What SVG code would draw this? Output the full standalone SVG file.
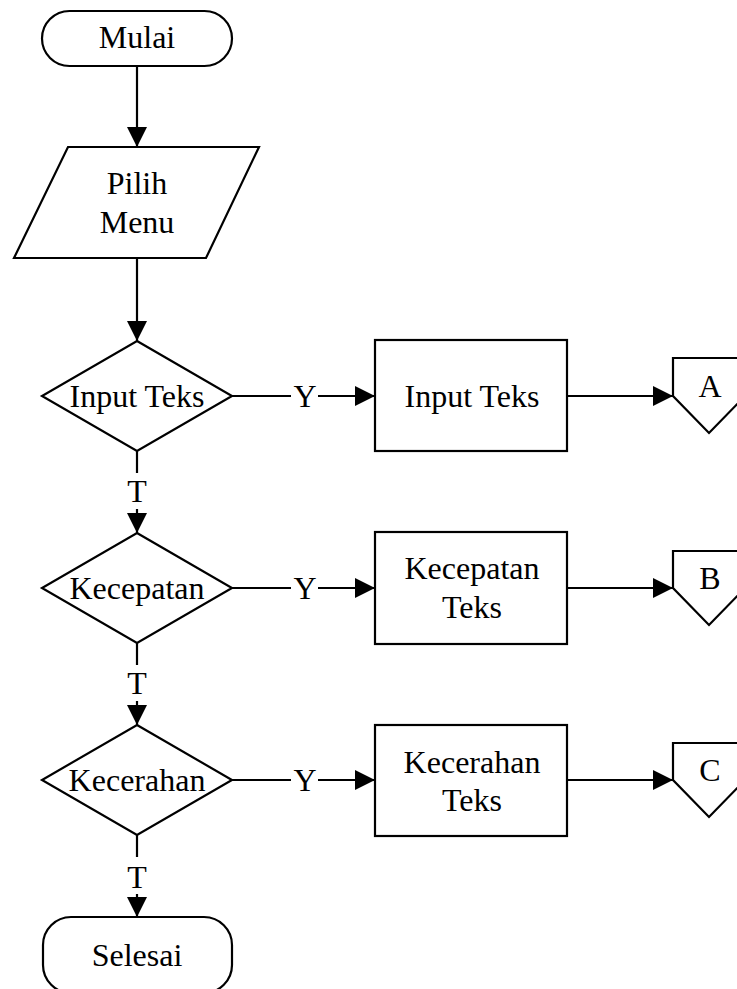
<svg xmlns="http://www.w3.org/2000/svg" width="737" height="989" viewBox="0 0 737 989">
  <style>
    .shape { fill: #ffffff; stroke: #000000; stroke-width: 2.2; }
    .line { fill: none; stroke: #000000; stroke-width: 2.2; }
    .arrow { fill: none; stroke: #000000; stroke-width: 2.2; marker-end: url(#head); }
    text { font-family: "Liberation Serif", "Times New Roman", serif; font-size: 32px; fill: #000000; text-anchor: middle; }
  </style>
  <defs>
    <marker id="head" viewBox="0 0 20 20" refX="20" refY="10" markerWidth="20" markerHeight="20" markerUnits="userSpaceOnUse" orient="auto">
      <path d="M0,0 L20,10 L0,20 Z" fill="#000000"/>
    </marker>
  </defs>
  <rect width="737" height="989" fill="#ffffff"/>

  <!-- connectors -->
  <g id="connectors">
    <!-- main vertical flow -->
    <line class="arrow" x1="137" y1="66" x2="137" y2="147"/>
    <line class="arrow" x1="137" y1="258" x2="137" y2="341"/>
    <line class="line" x1="137" y1="451" x2="137" y2="473"/>
    <text x="137" y="502">T</text>
    <line class="arrow" x1="137" y1="509" x2="137" y2="533"/>
    <line class="line" x1="137" y1="643" x2="137" y2="665"/>
    <text x="137" y="694">T</text>
    <line class="arrow" x1="137" y1="701" x2="137" y2="725"/>
    <line class="line" x1="137" y1="835" x2="137" y2="857"/>
    <text x="137" y="888">T</text>
    <line class="arrow" x1="137" y1="894" x2="137" y2="917"/>

    <!-- Y branches -->
    <line class="line" x1="232" y1="396" x2="291" y2="396"/>
    <text x="305" y="407">Y</text>
    <line class="arrow" x1="318" y1="396" x2="375" y2="396"/>
    <line class="line" x1="232" y1="588" x2="291" y2="588"/>
    <text x="305" y="599">Y</text>
    <line class="arrow" x1="318" y1="588" x2="375" y2="588"/>
    <line class="line" x1="232" y1="780" x2="291" y2="780"/>
    <text x="305" y="791">Y</text>
    <line class="arrow" x1="318" y1="780" x2="375" y2="780"/>

    <!-- process to off-page references -->
    <line class="arrow" x1="567" y1="396" x2="673" y2="396"/>
    <line class="arrow" x1="567" y1="588" x2="673" y2="588"/>
    <line class="arrow" x1="567" y1="780" x2="673" y2="780"/>
  </g>

  <g id="start">
    <rect class="shape" x="42" y="11" width="190" height="55" rx="27.5" ry="27.5"/>
    <text x="137" y="48">Mulai</text>
  </g>

  <g id="choose-menu">
    <polygon class="shape" points="68,147 259,147 206,258 14,258"/>
    <text x="137" y="194">Pilih</text>
    <text x="137" y="233">Menu</text>
  </g>

  <g id="decision-input">
    <polygon class="shape" points="137,341 232,396 137,451 42,396"/>
    <text x="137" y="407">Input Teks</text>
  </g>

  <g id="process-input">
    <rect class="shape" x="375" y="340" width="192" height="111"/>
    <text x="472" y="407">Input Teks</text>
  </g>

  <g id="ref-a">
    <polygon class="shape" points="673,358 745,358 745,396 709,433 673,396"/>
    <text x="710" y="397">A</text>
  </g>

  <g id="decision-speed">
    <polygon class="shape" points="137,533 232,588 137,643 42,588"/>
    <text x="137" y="599">Kecepatan</text>
  </g>

  <g id="process-speed">
    <rect class="shape" x="375" y="532" width="192" height="112"/>
    <text x="472" y="579">Kecepatan</text>
    <text x="472" y="618">Teks</text>
  </g>

  <g id="ref-b">
    <polygon class="shape" points="673,551 745,551 745,588 709,625 673,588"/>
    <text x="710" y="589">B</text>
  </g>

  <g id="decision-brightness">
    <polygon class="shape" points="137,725 232,780 137,835 42,780"/>
    <text x="137" y="791">Kecerahan</text>
  </g>

  <g id="process-brightness">
    <rect class="shape" x="375" y="725" width="192" height="111"/>
    <text x="472" y="773">Kecerahan</text>
    <text x="472" y="811">Teks</text>
  </g>

  <g id="ref-c">
    <polygon class="shape" points="673,743 745,743 745,780 709,817 673,780"/>
    <text x="710" y="781">C</text>
  </g>

  <g id="end">
    <rect class="shape" x="43" y="917" width="189" height="76" rx="28" ry="28"/>
    <text x="137" y="966">Selesai</text>
  </g>
</svg>
